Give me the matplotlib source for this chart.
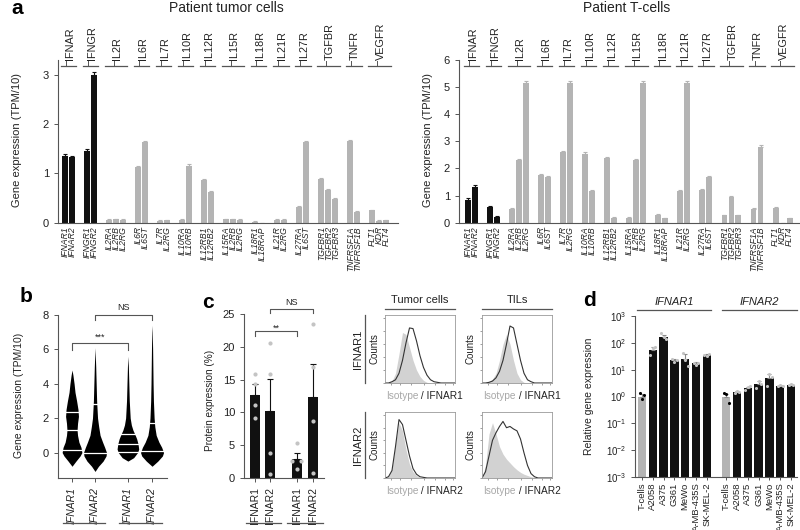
"""Multi-panel IFNAR expression figure (a-d)."""

import matplotlib
matplotlib.use("Agg")
import matplotlib.pyplot as plt
import matplotlib.transforms as mtransforms
from matplotlib.lines import Line2D
import numpy as np

W, H = 800, 530
BLACK = "#111111"
GRAY = "#b4b4b4"
DOT_GRAY = "#c4c4c4"
SPINE = "#555555"
TEXT = "#222222"

# ---- panel a data ----
RECEPTOR_GROUPS = ["IFNAR", "IFNGR", "IL2R", "IL6R", "IL7R", "IL10R", "IL12R",
                   "IL15R", "IL18R", "IL21R", "IL27R", "TGFBR", "TNFR", "VEGFR"]
GROUP_GENES = [["IFNAR1", "IFNAR2"], ["IFNGR1", "IFNGR2"], ["IL2RA", "IL2RB", "IL2RG"],
               ["IL6R", "IL6ST"], ["IL7R", "IL2RG"], ["IL10RA", "IL10RB"],
               ["IL12RB1", "IL12RB2"], ["IL15RA", "IL2RB", "IL2RG"], ["IL18R1", "IL18RAP"],
               ["IL21R", "IL2RG"], ["IL27RA", "IL6ST"], ["TGFBR1", "TGFBR2", "TGFBR3"],
               ["TNFRSF1A", "TNFRSF1B"], ["FLT1", "KDR", "FLT4"]]
TUMOR_TPM = [1.35, 1.32, 1.45, 3.00, 0.06, 0.07, 0.06, 1.12, 1.63, 0.04, 0.05,
             0.06, 1.15, 0.87, 0.63, 0.07, 0.07, 0.06, 0.02, 0.00, 0.06, 0.06,
             0.31, 1.63, 0.88, 0.67, 0.47, 1.65, 0.22, 0.25, 0.04, 0.05]
TUMOR_ERR = [0.04, 0.04, 0.05, 0.05, 0.01, 0.01, 0.01, 0.03, 0.03, 0.01, 0.01,
             0.01, 0.03, 0.02, 0.02, 0.01, 0.01, 0.01, 0.01, 0.00, 0.01, 0.01,
             0.02, 0.03, 0.02, 0.02, 0.02, 0.03, 0.01, 0.01, 0.01, 0.01]
TCELL_TPM = [0.85, 1.33, 0.57, 0.22, 0.52, 2.32, 5.15, 1.75, 1.70, 2.62, 5.15,
             2.55, 1.17, 2.37, 0.18, 0.18, 2.32, 5.15, 0.28, 0.16, 1.17, 5.15,
             1.22, 1.68, 0.27, 0.95, 0.27, 0.50, 2.80, 0.55, 0.00, 0.17]
TCELL_ERR = [0.05, 0.05, 0.04, 0.03, 0.03, 0.04, 0.06, 0.04, 0.04, 0.04, 0.06,
             0.05, 0.04, 0.04, 0.02, 0.02, 0.04, 0.06, 0.03, 0.02, 0.04, 0.06,
             0.04, 0.04, 0.03, 0.04, 0.03, 0.03, 0.05, 0.03, 0.00, 0.02]

# ---- panel b data (violin outlines: y level, half width) ----
VIOLIN_POS = [0.0, 1.0, 2.43, 3.48]
VIOLIN_LABELS = ["IFNAR1", "IFNAR2", "IFNAR1", "IFNAR2"]
V1_Y = [-0.8, -0.5, -0.2, 0.0, 0.3, 0.6, 1.0, 1.3, 1.7, 2.1, 2.5, 3.0, 3.5, 4.0, 4.5, 4.8]
V1_W = [0, .17, .35, .43, .39, .30, .24, .22, .24, .28, .26, .20, .13, .09, .04, 0]
V2_Y = [-1.1, -0.8, -0.5, -0.2, 0.0, 0.3, 0.6, 1.0, 1.5, 2.0, 3.0, 4.0, 5.0, 6.1]
V2_W = [0, .15, .35, .48, .50, .42, .33, .22, .16, .11, .07, .05, .03, 0]
V3_Y = [-0.5, -0.3, 0.0, 0.2, 0.5, 0.8, 1.0, 1.3, 1.6, 2.0, 3.0, 4.0, 5.0, 5.6]
V3_W = [0, .25, .42, .47, .44, .38, .32, .22, .15, .10, .06, .04, .02, 0]
V4_Y = [-0.8, -0.5, -0.2, 0.0, 0.3, 0.6, 1.0, 1.5, 2.0, 3.0, 4.0, 5.0, 6.0, 7.0, 7.4]
V4_W = [0, .25, .45, .50, .42, .30, .18, .12, .09, .06, .045, .035, .025, .01, 0]
V_LINES = [[0.12, 1.33, 2.35], [0.0, 2.85], [0.05, 0.5, 1.05], [0.1, 1.7]]

# ---- panel c data ----
PROT_POS = [0.0, 1.0, 2.8, 3.85]
PROT_LABELS = ["IFNAR1", "IFNAR2", "IFNAR1", "IFNAR2"]
PROT_MEAN = [12.6, 10.2, 2.9, 12.4]
PROT_ERR = [1.7, 4.9, 0.9, 5.0]
PROT_PTS = [[15.9, 14.3, 11.1, 9.1], [20.6, 15.9, 3.8, 0.6],
            [5.3, 2.6, 2.6, 1.4], [23.5, 16.9, 8.7, 0.7]]
PROT_JIT = [[0, 0, 0, 0], [0, 0, 0, 0], [0, -0.3, 0.3, 0], [0, 0, 0, 0]]

# ---- flow histograms (x is fraction of axis) ----
HIST_X = [0.00, 0.05, 0.10, 0.15, 0.20, 0.25, 0.30, 0.35, 0.40, 0.45, 0.50,
          0.55, 0.60, 0.65, 0.70, 0.75, 0.80, 0.85, 0.90, 0.95, 1.00]
ISO_TUM_R1 = [0, 0, .03, .15, .45, .78, .75, .55, .35, .20, .10, .04, .01, 0, 0, 0, 0, 0, 0, 0, 0]
STN_TUM_R1 = [0, 0, .02, .05, .15, .35, .62, .85, .84, .65, .42, .24, .12, .05, .02, .01, 0, 0, 0, 0, 0]
ISO_TIL_R1 = [0, 0, .02, .06, .15, .35, .60, .75, .60, .35, .15, .05, .01, 0, 0, 0, 0, 0, 0, 0, 0]
STN_TIL_R1 = [0, 0, .01, .03, .08, .18, .35, .60, .88, .85, .60, .35, .15, .05, .02, 0, 0, 0, 0, 0, 0]
ISO_TUM_R2 = [0, .02, .15, .55, .88, .75, .45, .22, .10, .04, .01, 0, 0, 0, 0, 0, 0, 0, 0, 0, 0]
STN_TUM_R2 = [0, .02, .12, .50, .93, .85, .60, .35, .15, .06, .02, .01, 0, 0, 0, 0, 0, 0, 0, 0, 0]
ISO_TIL_R2 = [0, .20, .70, .88, .70, .50, .38, .30, .24, .18, .13, .09, .06, .04, .02, .01, 0, 0, 0, 0, 0]
STN_TIL_R2 = [0, .10, .35, .60, .72, .82, .90, .80, .82, .78, .75, .62, .40, .20, .07, .02, 0, 0, 0, 0, 0]

# ---- panel d data ----
CELL_LINES = ["T-cells", "A2058", "A375", "G361", "MeWo", "A-MB-435S", "SK-MEL-2"]
IFNAR1_REL = [1.0, 56, 165, 22, 26, 17, 36]
IFNAR1_ERR = [0.2, 14, 30, 3, 14, 2, 3]
IFNAR1_PTS = [[1.4, 0.8, 1.1], [36, 65, 70], [230, 160, 140], [24, 20, 22],
              [42, 22, 14], [17, 15, 18], [36, 33, 38]]
IFNAR2_REL = [0.95, 1.5, 2.1, 3.0, 4.9, 2.5, 2.8]
IFNAR2_ERR = [0.25, 0.15, 0.2, 0.9, 2.0, 0.2, 0.2]
IFNAR2_PTS = [[1.3, 1.2, 0.58], [1.4, 1.6, 1.5], [1.7, 2.2, 2.4], [2.1, 3.9, 3.0],
              [2.5, 7.0, 5.2], [2.4, 2.6, 2.5], [2.7, 2.9, 2.8]]


def rect(x0, y0, x1, y1):
    return [x0 / W, 1 - y1 / H, (x1 - x0) / W, (y1 - y0) / H]


def ftext(fig, x, y, s, **kw):
    kw.setdefault("ha", "center")
    kw.setdefault("va", "center")
    kw.setdefault("color", TEXT)
    return fig.text(x / W, 1 - y / H, s, **kw)


def fline(fig, x0, y0, x1, y1, color=SPINE, lw=0.9):
    fig.add_artist(Line2D([x0 / W, x1 / W], [1 - y0 / H, 1 - y1 / H],
                          transform=fig.transFigure, color=color, lw=lw))


def style_axes(ax, fs=8):
    for s in ("top", "right"):
        ax.spines[s].set_visible(False)
    for s in ("left", "bottom"):
        ax.spines[s].set_color(SPINE)
        ax.spines[s].set_linewidth(0.8)
    ax.tick_params(colors=SPINE, labelcolor=TEXT, labelsize=fs, length=3, width=0.7)


def bracket(ax, x0, x1, y, drop, label, ty):
    ax.plot([x0, x0, x1, x1], [y - drop, y, y, y - drop], color=SPINE, lw=0.8, clip_on=False)
    ax.text((x0 + x1) / 2, ty, label, ha="center", va="center", fontsize=6.5,
            color=TEXT, clip_on=False)


def up_errors(ax, xs, vals, errs, color, cap=1.5):
    xs, vals, errs = list(xs), list(vals), list(errs)
    ax.errorbar(xs, vals, yerr=[[0] * len(errs), errs], fmt="none",
                ecolor=color, elinewidth=0.8, capsize=cap, capthick=0.8)


def expression_panel(fig, ax, values, errors, ylim, yticks):
    gap = 1.15
    positions, labels, colors = [], [], []
    pos = 0.0
    spans = []
    for gi, genes in enumerate(GROUP_GENES):
        start = pos
        for g in genes:
            positions.append(pos)
            labels.append(g)
            colors.append(BLACK if gi < 2 else GRAY)
            pos += 1
        spans.append((start, pos - 1))
        pos += gap
    ax.bar(positions, values, width=0.85, color=colors, lw=0)
    for col in (BLACK, GRAY):
        idx = [i for i, c in enumerate(colors) if c == col]
        up_errors(ax, [positions[i] for i in idx], [values[i] for i in idx],
                  [errors[i] for i in idx], col)
    style_axes(ax)
    ax.set_ylim(*ylim)
    ax.set_yticks(yticks)
    ax.set_xticks(positions, labels, rotation=90, fontstyle="italic", fontsize=6.2)
    ax.tick_params(axis="x", length=0, pad=2.5)
    trans = mtransforms.blended_transform_factory(ax.transData, fig.transFigure)
    for name, (a, b) in zip(RECEPTOR_GROUPS, spans):
        ax.plot([a - 0.6, b + 0.6], [1 - 66 / H] * 2, color=SPINE, lw=0.9,
                transform=trans, clip_on=False)
        c = (a + b) / 2
        ax.plot([c - 0.35, c - 0.35], [1 - 66 / H, 1 - 60.5 / H], color=SPINE, lw=0.7,
                transform=trans, clip_on=False)
        ax.text(c + 0.15, 1 - 60 / H, name, rotation=90, ha="center", va="bottom",
                fontsize=7.8, color=TEXT, transform=trans)
    return positions


def hist_panel(ax, iso, stain):
    ax.fill_between(HIST_X, 0, iso, color="#d2d2d2", lw=0)
    ax.plot(HIST_X, stain, color="#333333", lw=0.8)
    ax.set_xlim(0, 1)
    ax.set_ylim(0, 1.05)
    for s in ax.spines.values():
        s.set_color("#9a9a9a")
        s.set_linewidth(0.6)
    ax.set_xticks([0.08, 0.22, 0.37, 0.55, 0.72, 0.86, 0.97], [])
    ax.set_yticks([0.0, 0.2, 0.4, 0.6, 0.8, 1.0], [])
    ax.tick_params(length=1.5, width=0.5, colors="#777777")


def main():
    plt.rcParams.update({"font.family": ["Liberation Sans", "DejaVu Sans"],
                         "axes.linewidth": 0.8})
    fig = plt.figure(figsize=(W / 100, H / 100), dpi=100)

    # ---------------- panel a ----------------
    ax_l = fig.add_axes(rect(58, 59.7, 398, 222.7))
    expression_panel(fig, ax_l, TUMOR_TPM, TUMOR_ERR, (0, 3.3), [0, 1, 2, 3])
    ax_l.set_xlim(-1.0, 47.6)
    ax_r = fig.add_axes(rect(459, 60, 799, 222.7))
    expression_panel(fig, ax_r, TCELL_TPM, TCELL_ERR, (0, 6), [0, 1, 2, 3, 4, 5, 6])
    ax_r.set_xlim(-1.29, 47.3)
    ftext(fig, 17, 9, "a", fontsize=15, fontweight="bold", color="black")
    ftext(fig, 226, 8, "Patient tumor cells", fontsize=10)
    ftext(fig, 627, 8, "Patient T-cells", fontsize=10)
    ftext(fig, 17, 140, "Gene expression (TPM/10)", rotation=90, fontsize=8)
    ftext(fig, 428, 140, "Gene expression (TPM/10)", rotation=90, fontsize=8)

    # ---------------- panel b ----------------
    ax_b = fig.add_axes(rect(58, 315, 167, 478.3))
    for p, ys, ws, lines in zip(VIOLIN_POS, [V1_Y, V2_Y, V3_Y, V4_Y],
                                [V1_W, V2_W, V3_W, V4_W], V_LINES):
        ys, ws = np.array(ys), np.array(ws)
        ax_b.fill_betweenx(ys, p - ws, p + ws, color="black", lw=0)
        for yl in lines:
            hw = np.interp(yl, ys, ws)
            ax_b.plot([p - hw, p + hw], [yl, yl], color="white", lw=0.9)
    style_axes(ax_b)
    ax_b.set_ylim(-1.5, 8)
    ax_b.set_yticks([0, 2, 4, 6, 8])
    ax_b.set_xlim(-0.61, 4.13)
    ax_b.set_xticks(VIOLIN_POS, VIOLIN_LABELS, rotation=90, fontstyle="italic", fontsize=7.5)
    bracket(ax_b, VIOLIN_POS[0], VIOLIN_POS[2], 6.35, 0.4, "***", 6.7)
    bracket(ax_b, VIOLIN_POS[1], VIOLIN_POS[3], 8.0, 0.3, "NS", 8.45)
    ftext(fig, 26, 297, "b", fontsize=15, fontweight="bold", color="black")
    ftext(fig, 19, 395, "Gene expression (TPM/10)", rotation=90, fontsize=7.5)
    fline(fig, 63, 523, 105, 523)
    fline(fig, 119, 523, 162, 523)

    # ---------------- panel c ----------------
    ax_c = fig.add_axes(rect(244, 314, 324, 478))
    ax_c.bar(PROT_POS, PROT_MEAN, width=0.68, color=BLACK, lw=0)
    up_errors(ax_c, PROT_POS, PROT_MEAN, PROT_ERR, BLACK, cap=2)
    for p, pts, jit in zip(PROT_POS, PROT_PTS, PROT_JIT):
        ax_c.scatter(np.array(jit) + p, pts, s=9, color=DOT_GRAY, lw=0, zorder=3)
    style_axes(ax_c)
    ax_c.set_ylim(0, 25)
    ax_c.set_yticks([0, 5, 10, 15, 20, 25])
    ax_c.set_xlim(-0.73, 4.6)
    ax_c.set_xticks(PROT_POS, PROT_LABELS, rotation=90, fontsize=7.5)
    bracket(ax_c, PROT_POS[0], PROT_POS[2], 22.4, 0.8, "**", 22.9)
    bracket(ax_c, PROT_POS[1], PROT_POS[3], 25.8, 0.7, "NS", 26.8)
    ftext(fig, 208, 302, "c", fontsize=15, fontweight="bold", color="black")
    ftext(fig, 210, 400, "Protein expression (%)", rotation=90, fontsize=7.2)
    fline(fig, 246, 523, 281, 523)
    fline(fig, 287, 523, 323, 523)

    # ---------------- flow histograms ----------------
    hist_specs = [((385, 315, 455, 383), ISO_TUM_R1, STN_TUM_R1, "IFNAR1"),
                  ((482, 315, 552, 383), ISO_TIL_R1, STN_TIL_R1, "IFNAR1"),
                  ((385, 412, 455, 478), ISO_TUM_R2, STN_TUM_R2, "IFNAR2"),
                  ((482, 412, 552, 478), ISO_TIL_R2, STN_TIL_R2, "IFNAR2")]
    for (x0, y0, x1, y1), iso, stn, lab in hist_specs:
        ax_h = fig.add_axes(rect(x0, y0, x1, y1))
        hist_panel(ax_h, iso, stn)
        ftext(fig, x0 - 11, (y0 + y1) / 2, "Counts", rotation=90, fontsize=7)
        t1 = ftext(fig, x0 + 1, y1 + 13, "Isotype", ha="left", fontsize=7.3, color="#a8a8a8")
        ax_h.annotate(" / " + lab, xy=(1, 0.5), xycoords=t1, ha="left", va="center",
                      fontsize=7.3, color=TEXT, annotation_clip=False)
    for x0, x1, lab in [(385, 455, "Tumor cells"), (482, 552, "TILs")]:
        ftext(fig, (x0 + x1) / 2, 300, lab, fontsize=8)
        fline(fig, x0, 309, x1, 309)
    for y0, y1, lab in [(315, 383, "IFNAR1"), (412, 478, "IFNAR2")]:
        ftext(fig, 358, (y0 + y1) / 2, lab, rotation=90, fontsize=8)
        fline(fig, 365, y0, 365, y1)

    # ---------------- panel d ----------------
    ax_d = fig.add_axes(rect(635, 316, 797, 477))
    x1 = np.arange(len(CELL_LINES), dtype=float)
    x2 = x1 + 7.8
    for xs, vals, errs, pts in [(x1, IFNAR1_REL, IFNAR1_ERR, IFNAR1_PTS),
                                (x2, IFNAR2_REL, IFNAR2_ERR, IFNAR2_PTS)]:
        cols = [GRAY] + [BLACK] * (len(vals) - 1)
        ax_d.bar(xs, vals, width=0.78, color=cols, lw=0)
        up_errors(ax_d, xs, vals, errs, "#8a8a8a")
        for i, (xx, rep) in enumerate(zip(xs, pts)):
            ax_d.scatter(xx + np.array([-0.22, 0.0, 0.22]), rep, s=5, lw=0, zorder=3,
                         color="black" if i == 0 else DOT_GRAY)
    ax_d.set_yscale("log")
    ax_d.set_ylim(1e-3, 1e3)
    ax_d.set_yticks([1e-3, 1e-2, 1e-1, 1, 10, 100, 1000])
    ax_d.minorticks_off()
    style_axes(ax_d, fs=7)
    ax_d.set_xlim(-0.65, 14.35)
    ax_d.set_xticks(list(x1) + list(x2), CELL_LINES * 2, rotation=90, fontsize=6.8)
    ax_d.tick_params(axis="x", length=2, pad=2)
    ftext(fig, 589, 300, "d", fontsize=15, fontweight="bold", color="black")
    ftext(fig, 589, 396, "Relative gene expression", rotation=90, fontsize=7.5)
    ftext(fig, 674, 302, "IFNAR1", fontsize=8, fontstyle="italic")
    ftext(fig, 759, 302, "IFNAR2", fontsize=8, fontstyle="italic")
    fline(fig, 637, 310, 711, 310)
    fline(fig, 722, 310, 797, 310)

    fig.savefig("out.png", dpi=100)
    plt.close(fig)


if __name__ == "__main__":
    main()
